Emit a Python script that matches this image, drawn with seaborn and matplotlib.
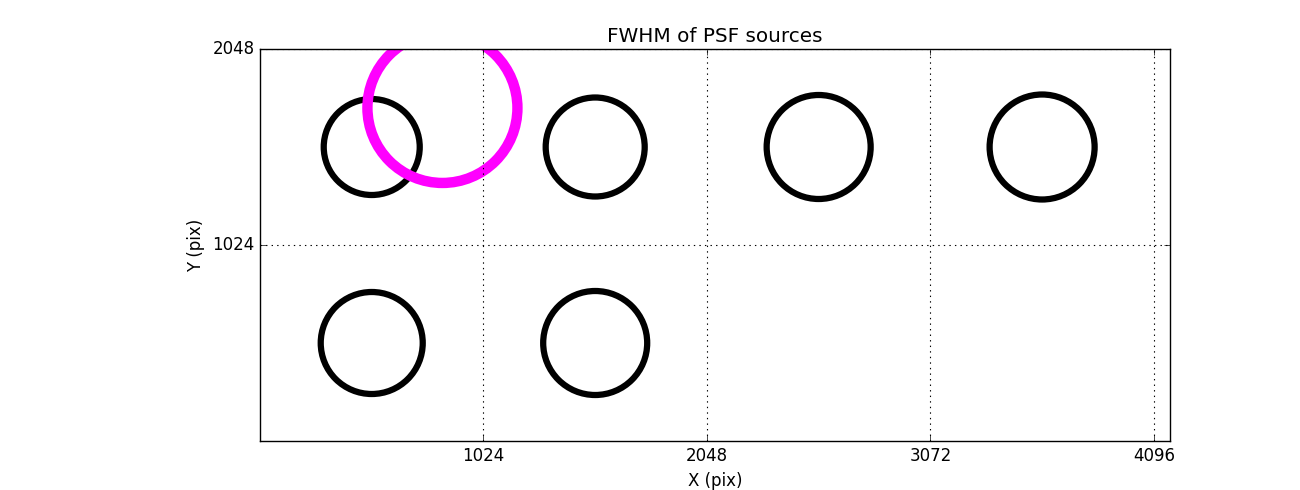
import numpy as np
import pandas as pd
import matplotlib
matplotlib.use("Agg")
import matplotlib.pyplot as plt
import seaborn as sns

# Data (pixel coordinates of PSF sources and their FWHM, as marker diameter in px)
src_x = [512, 1536, 2560, 3584, 512, 1536]
src_y = [1536, 1536, 1536, 1536, 512, 512]
src_fwhm = [96, 99, 104, 105, 102, 104]

mean_x = [836]
mean_y = [1740]
mean_fwhm = [150]

x_ticks = [1024, 2048, 3072, 4096]
y_ticks = [1024, 2048]

plt.style.use("classic")
plt.rcParams["font.family"] = ["DejaVu Sans"]

fig = plt.figure(figsize=(13, 4.9), dpi=100, facecolor="white")
ax = fig.add_axes([0.2, 0.1, 0.7, 0.8])

px2pt = 72.0 / 100.0

src = pd.DataFrame({"x": src_x, "y": src_y, "fwhm": src_fwhm})
mean = pd.DataFrame({"x": mean_x, "y": mean_y, "fwhm": mean_fwhm})

sns.scatterplot(data=src, x="x", y="y", ax=ax,
                s=(np.array(src_fwhm) * px2pt) ** 2,
                facecolor="none", edgecolor="black", linewidth=4.5,
                legend=False)
ax.collections[-1].set_facecolor("none")

sns.scatterplot(data=mean, x="x", y="y", ax=ax,
                s=(np.array(mean_fwhm) * px2pt) ** 2,
                facecolor="none", edgecolor="magenta", linewidth=7.5,
                legend=False)
ax.collections[-1].set_facecolor("none")

ax.set_xlim(0, 4170)
ax.set_ylim(0, 2048)
ax.set_xticks(x_ticks)
ax.set_yticks(y_ticks)
ax.set_xticklabels([str(t) for t in x_ticks], fontsize=12)
ax.set_yticklabels([str(t) for t in y_ticks], fontsize=12)
ax.grid(True, linestyle=":", color="black", linewidth=0.8)
ax.set_xlabel("X (pix)", fontsize=12)
ax.set_ylabel("Y (pix)", fontsize=12)
ax.set_title("FWHM of PSF sources", fontsize=14.4)

fig.savefig("out.png", dpi=100, facecolor="white")
